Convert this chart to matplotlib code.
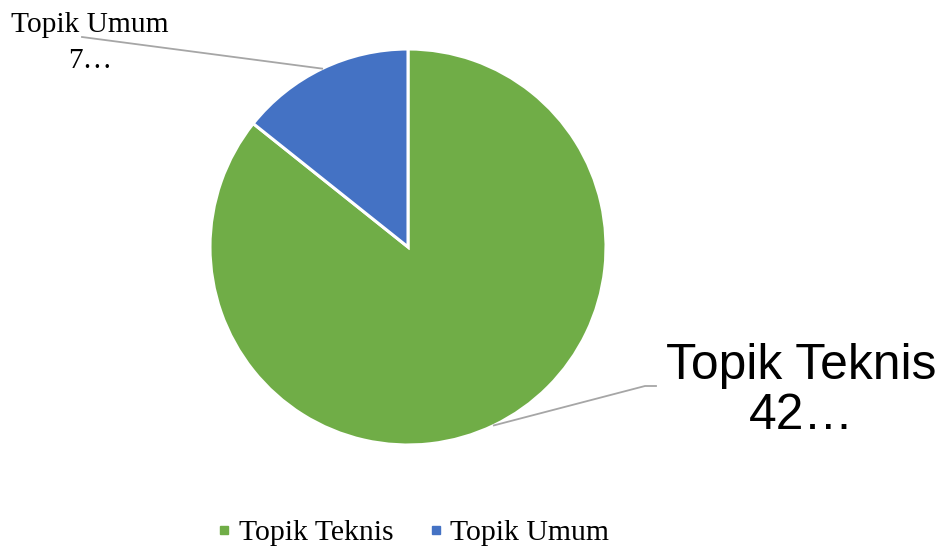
import numpy as np
import matplotlib.pyplot as plt
from matplotlib.lines import Line2D

# data
kategori = ["Topik Teknis", "Topik Umum"]
nilai = [42, 7]
label_teks = ["42…", "7…"]
warna = ["#70AD47", "#4472C4"]

W, H = 943, 550
fig = plt.figure(figsize=(W / 100, H / 100), dpi=100)

# pie axes: center (408, 247), radius 198 px
cx, cy, r = 408, 247, 198
ax = fig.add_axes([(cx - r) / W, (H - cy - r) / H, 2 * r / W, 2 * r / H])

wedges, _ = ax.pie(nilai, colors=warna, startangle=90, counterclock=False,
                   wedgeprops=dict(edgecolor="white", linewidth=2.2))
ax.set_xlim(-1, 1)
ax.set_ylim(-1, 1)
ax.set_aspect("equal")
ax.axis("off")


def px(x, y):
    # pixel position -> pie data coords
    return (x - cx) / r, (cy - y) / r


garis = "#A6A6A6"

# Topik Teknis label
w = wedges[0]
mid = np.deg2rad((w.theta1 + w.theta2) / 2)
x0, y0 = np.cos(mid), np.sin(mid)
bx, by = px(645, 386)
ex, ey = px(656, 386)
ax.plot([x0, bx, ex], [y0, by, ey], color=garis, lw=1.3, clip_on=False)
tx, ty = px(801, 391)
ax.text(tx, ty, f"{kategori[0]}\n{label_teks[0]}", ha="center", va="center",
        fontsize=35.8, family="Liberation Sans", linespacing=1.12, clip_on=False)

# Topik Umum label
w = wedges[1]
mid = np.deg2rad((w.theta1 + w.theta2) / 2)
x0, y0 = np.cos(mid), np.sin(mid)
bx, by = px(82, 37)
ax.plot([x0, bx], [y0, by], color=garis, lw=1.3, clip_on=False)
tx, ty = px(90, 43)
ax.text(tx, ty, f"{kategori[1]}\n{label_teks[1]}", ha="center", va="center",
        fontsize=21.2, family="Liberation Serif", linespacing=1.45, clip_on=False)

# legend
handles = [Line2D([], [], marker="s", linestyle="none", markersize=6.2,
                  markerfacecolor=c, markeredgecolor=c) for c in warna]
fig.legend(handles, kategori, loc="center", bbox_to_anchor=(414 / W, 1 - 533 / H),
           ncol=2, frameon=False, prop=dict(family="Liberation Serif", size=21.4),
           handlelength=0.4, handletextpad=0.3, columnspacing=1.2)

fig.savefig("out.png", dpi=100)
